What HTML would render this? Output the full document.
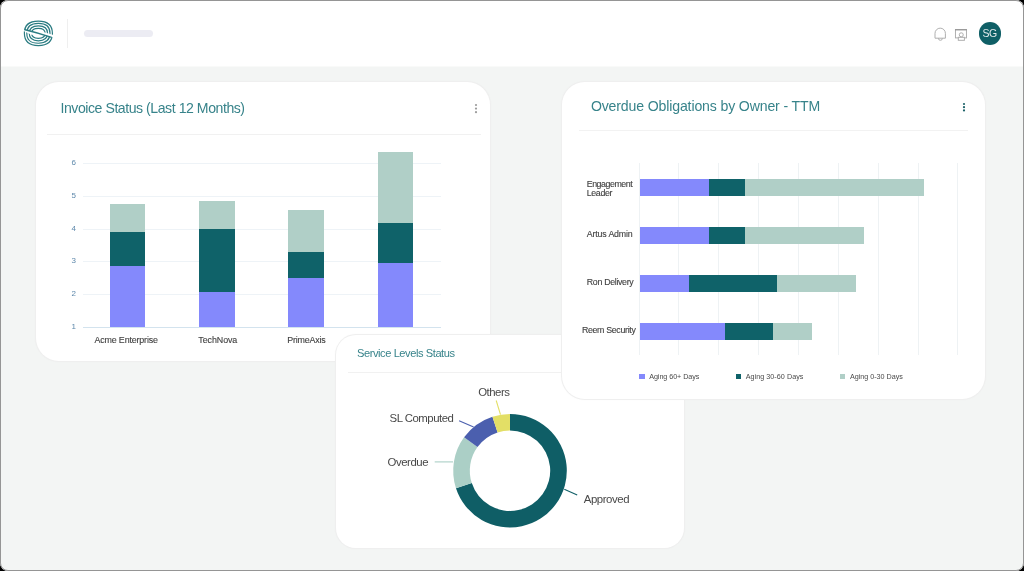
<!DOCTYPE html>
<html><head><meta charset="utf-8">
<style>
*{box-sizing:border-box;margin:0;padding:0}
html,body{width:1024px;height:571px;overflow:hidden;background:#000;font-family:"Liberation Sans",sans-serif}
.frame{position:absolute;left:0;top:0;width:1024px;height:571px;will-change:transform;background:#f3f5f4;overflow:hidden}
.bord{position:absolute;left:0;top:0;width:1024px;height:571px;border:1px solid #959595;border-radius:8px;z-index:50;pointer-events:none;box-shadow:0 0 0 30px #000}
.hdr{position:absolute;left:0;top:0;width:1024px;height:67px;background:linear-gradient(#fff 66px,#f9faf9 66px)}
.vdiv{position:absolute;left:67px;top:18.5px;width:1px;height:29px;background:#efefef}
.ph{position:absolute;left:84px;top:30px;width:69px;height:7px;border-radius:4px;background:#ececf3}
.av{position:absolute;left:978.5px;top:22.1px;width:22.8px;height:22.8px;border-radius:50%;background:#0f5f66}
.card{position:absolute;background:#fff;border-radius:23px;box-shadow:0 0 0 1px #efefef,0 0 2px 1px rgba(0,0,0,0.025)}
</style></head><body>
<div class="frame">
<div class="hdr">
<svg style="position:absolute;left:0;top:0" width="70" height="66" viewBox="0 0 70 66">
      <defs>
        <clipPath id="ct"><path d="M0 0 H70 V36.2 L56 35.8 L45 32.4 L33 31.6 L24.3 29.4 L0 28.4 Z"/></clipPath>
        <clipPath id="cb"><path d="M0 66 H70 V38.6 L56 37.9 L44 35.0 L31.5 34.8 L23.5 30.9 L0 30.6 Z"/></clipPath>
      </defs>
      <g fill="none" stroke="#2b7c82" stroke-width="1.2">
        <g clip-path="url(#ct)"><path d="M24.40 33.35C24.40 24.86 28.74 21.05 38.40 21.05C48.06 21.05 52.40 24.86 52.40 33.35C52.40 41.84 48.06 45.65 38.40 45.65C28.74 45.65 24.40 41.84 24.40 33.35Z"/><path d="M26.82 33.35C26.82 26.53 30.41 23.47 38.40 23.47C46.39 23.47 49.98 26.53 49.98 33.35C49.98 40.17 46.39 43.23 38.40 43.23C30.41 43.23 26.82 40.17 26.82 33.35Z"/><path d="M29.24 33.35C29.24 28.20 32.08 25.89 38.40 25.89C44.72 25.89 47.56 28.20 47.56 33.35C47.56 38.50 44.72 40.81 38.40 40.81C32.08 40.81 29.24 38.50 29.24 33.35Z"/><path d="M31.66 33.35C31.66 29.87 33.75 28.31 38.40 28.31C43.05 28.31 45.14 29.87 45.14 33.35C45.14 36.83 43.05 38.39 38.40 38.39C33.75 38.39 31.66 36.83 31.66 33.35Z"/></g>
        <g clip-path="url(#cb)"><path d="M24.40 33.35C24.40 24.86 28.74 21.05 38.40 21.05C48.06 21.05 52.40 24.86 52.40 33.35C52.40 41.84 48.06 45.65 38.40 45.65C28.74 45.65 24.40 41.84 24.40 33.35Z"/><path d="M26.82 33.35C26.82 26.53 30.41 23.47 38.40 23.47C46.39 23.47 49.98 26.53 49.98 33.35C49.98 40.17 46.39 43.23 38.40 43.23C30.41 43.23 26.82 40.17 26.82 33.35Z"/><path d="M29.24 33.35C29.24 28.20 32.08 25.89 38.40 25.89C44.72 25.89 47.56 28.20 47.56 33.35C47.56 38.50 44.72 40.81 38.40 40.81C32.08 40.81 29.24 38.50 29.24 33.35Z"/><path d="M31.66 33.35C31.66 29.87 33.75 28.31 38.40 28.31C43.05 28.31 45.14 29.87 45.14 33.35C45.14 36.83 43.05 38.39 38.40 38.39C33.75 38.39 31.66 36.83 31.66 33.35Z"/></g>
        <path d="M24.2 29.5 Q38 32.9 51.6 37.3" stroke-width="1.35"/>
      </g>
    </svg>
<div class="vdiv"></div><div class="ph"></div>
<svg style="position:absolute;left:930px;top:24px" width="40" height="20" viewBox="930 24 40 20">
      <g fill="none" stroke="#ababab" stroke-width="0.95">
        <path d="M935 38.2 V33.35 A5.2 5.2 0 0 1 945.4 33.35 V38.2 Z"/>
        <path d="M938.4 38.3 A2 2 0 0 0 942.4 38.3"/>
        <rect x="955.45" y="29.6" width="11" height="8.3"/>
        <circle cx="961.25" cy="34.8" r="2"/>
        <rect x="958.3" y="37.3" width="6.1" height="3" fill="#fff"/>
      </g>
      <path d="M955 29.7 H966.9" stroke="#9a9a9a" stroke-width="1.4"/>
    </svg>
<div class="av"></div>
<div style="position:absolute;white-space:nowrap;font-size:10.50px;line-height:10.50px;color:#e3eaeb;top:27.71px;letter-spacing:-0.542px;left:889.63px;width:200px;text-align:center;">SG</div>
</div>
<div class="card" style="left:36px;top:82px;width:454px;height:279px">
<div style="position:absolute;white-space:nowrap;font-size:14.10px;line-height:14.10px;color:#37838a;top:19.36px;letter-spacing:-0.455px;left:24.50px;">Invoice Status (Last 12 Months)</div>
<svg style="position:absolute;left:436.90px;top:20.10px" width="6" height="14" viewBox="0 0 6 14"><circle cx="3" cy="3.00" r="1.10" fill="#9c9c9c"/><circle cx="3" cy="6.60" r="1.10" fill="#9c9c9c"/><circle cx="3" cy="10.20" r="1.10" fill="#9c9c9c"/></svg>
<div style="position:absolute;left:11.00px;top:52.00px;width:434.00px;height:1.00px;background:#f1f1f1;"></div>
<div style="position:absolute;left:47.40px;top:244.90px;width:357.40px;height:1.00px;background:#d3e3ee;"></div>
<div style="position:absolute;white-space:nowrap;font-size:8.00px;line-height:8.00px;color:#5d88ab;top:241.03px;left:-62.30px;width:200px;text-align:center;">1</div>
<div style="position:absolute;left:47.40px;top:212.12px;width:357.40px;height:1.00px;background:#eef3f7;"></div>
<div style="position:absolute;white-space:nowrap;font-size:8.00px;line-height:8.00px;color:#5d88ab;top:208.25px;left:-62.30px;width:200px;text-align:center;">2</div>
<div style="position:absolute;left:47.40px;top:179.34px;width:357.40px;height:1.00px;background:#eef3f7;"></div>
<div style="position:absolute;white-space:nowrap;font-size:8.00px;line-height:8.00px;color:#5d88ab;top:175.47px;left:-62.30px;width:200px;text-align:center;">3</div>
<div style="position:absolute;left:47.40px;top:146.56px;width:357.40px;height:1.00px;background:#eef3f7;"></div>
<div style="position:absolute;white-space:nowrap;font-size:8.00px;line-height:8.00px;color:#5d88ab;top:142.69px;left:-62.30px;width:200px;text-align:center;">4</div>
<div style="position:absolute;left:47.40px;top:113.78px;width:357.40px;height:1.00px;background:#eef3f7;"></div>
<div style="position:absolute;white-space:nowrap;font-size:8.00px;line-height:8.00px;color:#5d88ab;top:109.91px;left:-62.30px;width:200px;text-align:center;">5</div>
<div style="position:absolute;left:47.40px;top:81.00px;width:357.40px;height:1.00px;background:#eef3f7;"></div>
<div style="position:absolute;white-space:nowrap;font-size:8.00px;line-height:8.00px;color:#5d88ab;top:77.13px;left:-62.30px;width:200px;text-align:center;">6</div>
<div style="position:absolute;left:73.60px;top:121.70px;width:35.60px;height:28.50px;background:#b0cfc7;"></div>
<div style="position:absolute;left:73.60px;top:150.20px;width:35.60px;height:33.60px;background:#0f6269;"></div>
<div style="position:absolute;left:73.60px;top:183.80px;width:35.60px;height:61.60px;background:#8489fc;"></div>
<div style="position:absolute;left:162.93px;top:118.50px;width:35.60px;height:28.50px;background:#b0cfc7;"></div>
<div style="position:absolute;left:162.93px;top:147.00px;width:35.60px;height:62.60px;background:#0f6269;"></div>
<div style="position:absolute;left:162.93px;top:209.60px;width:35.60px;height:35.80px;background:#8489fc;"></div>
<div style="position:absolute;left:252.26px;top:127.50px;width:35.60px;height:42.50px;background:#b0cfc7;"></div>
<div style="position:absolute;left:252.26px;top:170.00px;width:35.60px;height:25.50px;background:#0f6269;"></div>
<div style="position:absolute;left:252.26px;top:195.50px;width:35.60px;height:49.90px;background:#8489fc;"></div>
<div style="position:absolute;left:341.59px;top:70.10px;width:35.60px;height:71.10px;background:#b0cfc7;"></div>
<div style="position:absolute;left:341.59px;top:141.20px;width:35.60px;height:40.20px;background:#0f6269;"></div>
<div style="position:absolute;left:341.59px;top:181.40px;width:35.60px;height:64.00px;background:#8489fc;"></div>
<div style="position:absolute;white-space:nowrap;font-size:8.90px;line-height:8.90px;color:#404040;top:254.17px;letter-spacing:-0.155px;left:-9.88px;width:200px;text-align:center;-webkit-text-stroke:0.12px currentColor;">Acme Enterprise</div>
<div style="position:absolute;white-space:nowrap;font-size:8.90px;line-height:8.90px;color:#404040;top:254.17px;letter-spacing:-0.062px;left:81.77px;width:200px;text-align:center;-webkit-text-stroke:0.12px currentColor;">TechNova</div>
<div style="position:absolute;white-space:nowrap;font-size:8.90px;line-height:8.90px;color:#404040;top:254.17px;letter-spacing:-0.190px;left:170.41px;width:200px;text-align:center;-webkit-text-stroke:0.12px currentColor;">PrimeAxis</div>
</div>
<div class="card" style="left:336px;top:335px;width:348px;height:213px;border-radius:20px">
<div style="position:absolute;white-space:nowrap;font-size:11.10px;line-height:11.10px;color:#37838a;top:13.20px;letter-spacing:-0.431px;left:21.00px;">Service Levels Status</div>
<div style="position:absolute;left:12.00px;top:37.00px;width:336.00px;height:1.00px;background:#f1f1f1;"></div>
<svg style="position:absolute;left:0;top:0" width="348" height="213" viewBox="336 335 348 213">
<path d="M510.00 413.90A56.80 56.80 0 1 1 455.98 488.25L471.77 483.12A40.20 40.20 0 1 0 510.00 430.50Z" fill="#0f5e66"/>
<path d="M455.98 488.25A56.80 56.80 0 0 1 464.05 437.31L477.48 447.07A40.20 40.20 0 0 0 471.77 483.12Z" fill="#abcfc6"/>
<path d="M464.05 437.31A56.80 56.80 0 0 1 492.45 416.68L497.58 432.47A40.20 40.20 0 0 0 477.48 447.07Z" fill="#4b5fae"/>
<path d="M492.45 416.68A56.80 56.80 0 0 1 509.99 413.90L509.99 430.50A40.20 40.20 0 0 0 497.58 432.47Z" fill="#e3df66"/>
<g stroke-width="1.1" fill="none">
        <path d="M496.2 400.5 L500.5 414.6" stroke="#e3df66"/>
        <path d="M459.1 420.8 L473.6 426.9" stroke="#4b5fae"/>
        <path d="M434.7 461.9 L453 461.9" stroke="#abcfc6"/>
        <path d="M564.3 489.3 L577.2 494.9" stroke="#0f5e66"/>
      </g>
</svg>
<div style="position:absolute;white-space:nowrap;font-size:11.40px;line-height:11.40px;color:#484848;top:52.25px;letter-spacing:-0.501px;left:142.20px;">Others</div>
<div style="position:absolute;white-space:nowrap;font-size:11.40px;line-height:11.40px;color:#484848;top:77.95px;letter-spacing:-0.495px;left:53.60px;">SL Computed</div>
<div style="position:absolute;white-space:nowrap;font-size:11.40px;line-height:11.40px;color:#484848;top:122.15px;letter-spacing:-0.470px;left:51.60px;">Overdue</div>
<div style="position:absolute;white-space:nowrap;font-size:11.40px;line-height:11.40px;color:#484848;top:159.15px;letter-spacing:-0.440px;left:247.80px;">Approved</div>
</div>
<div class="card" style="left:562px;top:82px;width:423px;height:317px">
<div style="position:absolute;white-space:nowrap;font-size:14.10px;line-height:14.10px;color:#37838a;top:17.26px;letter-spacing:-0.142px;left:28.90px;">Overdue Obligations by Owner - TTM</div>
<svg style="position:absolute;left:398.70px;top:18.80px" width="6" height="14" viewBox="0 0 6 14"><circle cx="3" cy="3.00" r="1.10" fill="#1d6369"/><circle cx="3" cy="6.20" r="1.10" fill="#1d6369"/><circle cx="3" cy="9.40" r="1.10" fill="#1d6369"/></svg>
<div style="position:absolute;left:17.00px;top:48.00px;width:389.00px;height:1.00px;background:#f2f2f2;"></div>
<div style="position:absolute;left:76.60px;top:80.80px;width:1.00px;height:192.00px;background:#eef2f4;"></div>
<div style="position:absolute;left:116.45px;top:80.80px;width:1.00px;height:192.00px;background:#eef2f4;"></div>
<div style="position:absolute;left:156.30px;top:80.80px;width:1.00px;height:192.00px;background:#eef2f4;"></div>
<div style="position:absolute;left:196.15px;top:80.80px;width:1.00px;height:192.00px;background:#eef2f4;"></div>
<div style="position:absolute;left:236.00px;top:80.80px;width:1.00px;height:192.00px;background:#eef2f4;"></div>
<div style="position:absolute;left:275.85px;top:80.80px;width:1.00px;height:192.00px;background:#eef2f4;"></div>
<div style="position:absolute;left:315.70px;top:80.80px;width:1.00px;height:192.00px;background:#eef2f4;"></div>
<div style="position:absolute;left:355.55px;top:80.80px;width:1.00px;height:192.00px;background:#eef2f4;"></div>
<div style="position:absolute;left:395.40px;top:80.80px;width:1.00px;height:192.00px;background:#eef2f4;"></div>
<div style="position:absolute;left:77.50px;top:96.50px;width:69.50px;height:17.00px;background:#8489fc;"></div>
<div style="position:absolute;left:147.00px;top:96.50px;width:35.90px;height:17.00px;background:#0f6269;"></div>
<div style="position:absolute;left:182.90px;top:96.50px;width:179.30px;height:17.00px;background:#b0cfc7;"></div>
<div style="position:absolute;left:77.50px;top:144.70px;width:69.50px;height:17.00px;background:#8489fc;"></div>
<div style="position:absolute;left:147.00px;top:144.70px;width:36.00px;height:17.00px;background:#0f6269;"></div>
<div style="position:absolute;left:183.00px;top:144.70px;width:119.00px;height:17.00px;background:#b0cfc7;"></div>
<div style="position:absolute;left:77.50px;top:192.90px;width:49.20px;height:17.00px;background:#8489fc;"></div>
<div style="position:absolute;left:126.70px;top:192.90px;width:87.90px;height:17.00px;background:#0f6269;"></div>
<div style="position:absolute;left:214.60px;top:192.90px;width:79.70px;height:17.00px;background:#b0cfc7;"></div>
<div style="position:absolute;left:77.50px;top:241.10px;width:85.10px;height:17.00px;background:#8489fc;"></div>
<div style="position:absolute;left:162.60px;top:241.10px;width:48.10px;height:17.00px;background:#0f6269;"></div>
<div style="position:absolute;left:210.70px;top:241.10px;width:39.40px;height:17.00px;background:#b0cfc7;"></div>
<div style="position:absolute;white-space:nowrap;font-size:8.80px;line-height:8.80px;color:#404040;top:97.55px;letter-spacing:-0.429px;left:24.70px;-webkit-text-stroke:0.12px currentColor;">Engagement</div>
<div style="position:absolute;white-space:nowrap;font-size:8.80px;line-height:8.80px;color:#404040;top:107.05px;letter-spacing:-0.316px;left:24.70px;-webkit-text-stroke:0.12px currentColor;">Leader</div>
<div style="position:absolute;white-space:nowrap;font-size:8.80px;line-height:8.80px;color:#404040;top:148.25px;letter-spacing:-0.151px;left:24.80px;-webkit-text-stroke:0.12px currentColor;">Artus Admin</div>
<div style="position:absolute;white-space:nowrap;font-size:8.80px;line-height:8.80px;color:#404040;top:196.25px;letter-spacing:-0.312px;left:24.80px;-webkit-text-stroke:0.12px currentColor;">Ron Delivery</div>
<div style="position:absolute;white-space:nowrap;font-size:8.80px;line-height:8.80px;color:#404040;top:244.25px;letter-spacing:-0.313px;left:19.90px;-webkit-text-stroke:0.12px currentColor;">Reem Security</div>
<div style="position:absolute;left:77.00px;top:291.75px;width:5.50px;height:5.50px;background:#8489fc;"></div>
<div style="position:absolute;white-space:nowrap;font-size:7.20px;line-height:7.20px;color:#4a4a4a;top:291.11px;letter-spacing:-0.055px;left:87.20px;">Aging 60+ Days</div>
<div style="position:absolute;left:173.50px;top:291.75px;width:5.50px;height:5.50px;background:#0f6269;"></div>
<div style="position:absolute;white-space:nowrap;font-size:7.20px;line-height:7.20px;color:#4a4a4a;top:291.11px;letter-spacing:0.039px;left:183.70px;">Aging 30-60 Days</div>
<div style="position:absolute;left:277.70px;top:291.75px;width:5.50px;height:5.50px;background:#b0cfc7;"></div>
<div style="position:absolute;white-space:nowrap;font-size:7.20px;line-height:7.20px;color:#4a4a4a;top:291.11px;letter-spacing:-0.015px;left:287.90px;">Aging 0-30 Days</div>
</div>
</div>
<div class="bord"></div>
</body></html>
